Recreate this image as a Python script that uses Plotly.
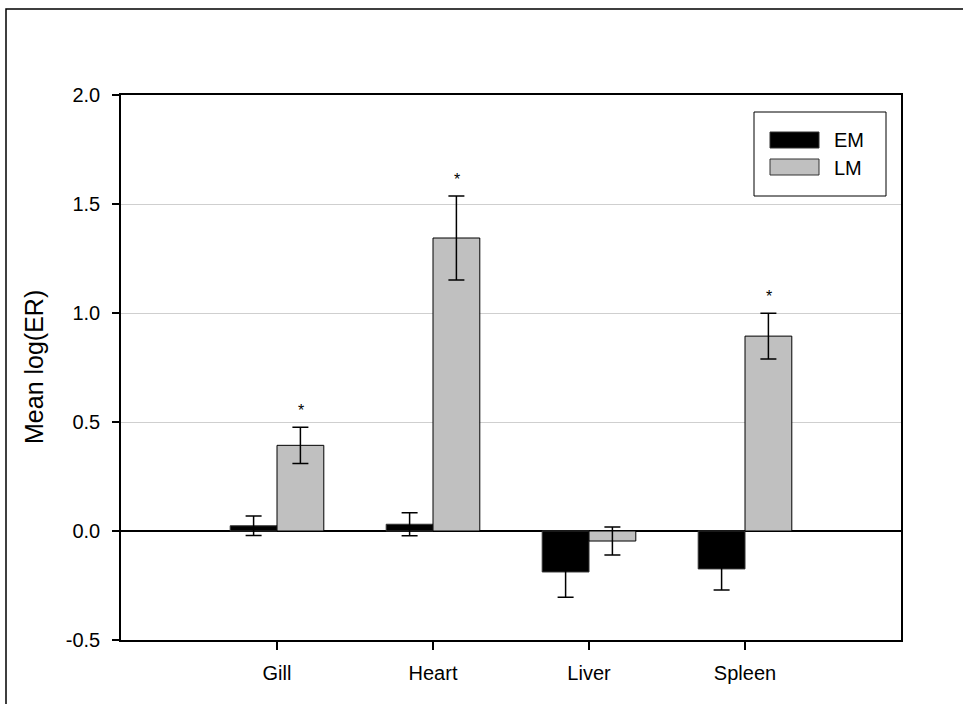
import plotly.graph_objects as go

categories = ["Gill", "Heart", "Liver", "Spleen"]
em_values = [0.024, 0.031, -0.188, -0.174]
em_errors = [0.045, 0.053, 0.116, 0.097]
lm_values = [0.393, 1.344, -0.046, 0.894]
lm_errors = [0.083, 0.193, 0.064, 0.105]
significant_lm = [True, True, False, True]
y_ticks = [-0.5, 0.0, 0.5, 1.0, 1.5, 2.0]
y_tick_labels = ["-0.5", "0.0", "0.5", "1.0", "1.5", "2.0"]

FONT = "Liberation Sans, Arial, sans-serif"
W, H = 963, 704
L, R, T, B = 121, 901, 95, 640

def px(x):
    return (x - L) / (R - L)

def py(y):
    return (B - y) / (B - T)

fig = go.Figure()
fig.add_trace(go.Bar(
    x=categories, y=em_values, name="EM",
    marker=dict(color="#000000", line=dict(color="#333333", width=1)),
    error_y=dict(type="data", array=em_errors, color="#000000", thickness=1.5, width=8),
))
fig.add_trace(go.Bar(
    x=categories, y=lm_values, name="LM",
    marker=dict(color="#c0c0c0", line=dict(color="#000000", width=1)),
    error_y=dict(type="data", array=lm_errors, color="#000000", thickness=1.5, width=8),
))

annotations = []
for c, v, e, s in zip(categories, lm_values, lm_errors, significant_lm):
    if s:
        annotations.append(dict(
            x=c, y=v + e, xref="x", yref="y", text="*", showarrow=False,
            xshift=23.5, yshift=6, yanchor="bottom",
            font=dict(family=FONT, size=16, color="#000"),
        ))

# y-axis title
annotations.append(dict(
    x=px(33.5), y=0.5, xref="paper", yref="paper", text="Mean log(ER)", textangle=-90,
    showarrow=False, xanchor="center", yanchor="middle",
    font=dict(family=FONT, size=25, color="#000"),
))

# manual legend
annotations += [
    dict(x=px(832), y=py(140), xref="paper", yref="paper", text="EM", showarrow=False,
         xanchor="left", yanchor="middle", font=dict(family=FONT, size=20, color="#000")),
    dict(x=px(832), y=py(168), xref="paper", yref="paper", text="LM", showarrow=False,
         xanchor="left", yanchor="middle", font=dict(family=FONT, size=20, color="#000")),
]

shapes = [
    # outer frame
    dict(type="rect", xref="paper", yref="paper", x0=px(6), x1=px(1000), y0=py(760), y1=py(9),
         line=dict(color="#000", width=1.5), fillcolor="rgba(0,0,0,0)", layer="below"),
    # legend box
    dict(type="rect", xref="paper", yref="paper", x0=px(754), x1=px(886), y0=py(196), y1=py(112),
         line=dict(color="#000", width=1), fillcolor="#fff"),
    dict(type="rect", xref="paper", yref="paper", x0=px(770), x1=px(819), y0=py(148), y1=py(132),
         line=dict(color="#333", width=1), fillcolor="#000"),
    dict(type="rect", xref="paper", yref="paper", x0=px(770), x1=px(819), y0=py(175), y1=py(159),
         line=dict(color="#333", width=1), fillcolor="#c0c0c0"),
]

fig.update_layout(
    width=W, height=H,
    margin=dict(l=L, r=W - R, t=T, b=H - B, pad=0),
    paper_bgcolor="#fff", plot_bgcolor="#fff",
    barmode="group", bargap=0.4, bargroupgap=0,
    showlegend=False,
    font=dict(family=FONT, size=20, color="#000"),
    annotations=annotations, shapes=shapes,
    xaxis=dict(
        type="category", range=[-1, 4], showgrid=False, zeroline=False,
        showline=True, linecolor="#000", linewidth=1.5, mirror=True,
        ticks="outside", ticklen=8, tickwidth=1.5, tickcolor="#000",
        tickfont=dict(family=FONT, size=20), ticklabelstandoff=6,
    ),
    yaxis=dict(
        range=[-0.5, 2.0], tickvals=y_ticks, ticktext=y_tick_labels,
        showgrid=True, gridcolor="#cfcfcf", gridwidth=1,
        zeroline=True, zerolinecolor="#000", zerolinewidth=1.5,
        showline=True, linecolor="#000", linewidth=1.5, mirror=True,
        ticks="outside", ticklen=7, tickwidth=1.5, tickcolor="#000",
        tickfont=dict(family=FONT, size=20), ticklabelstandoff=8,
    ),
)

fig.write_html("out.html")
